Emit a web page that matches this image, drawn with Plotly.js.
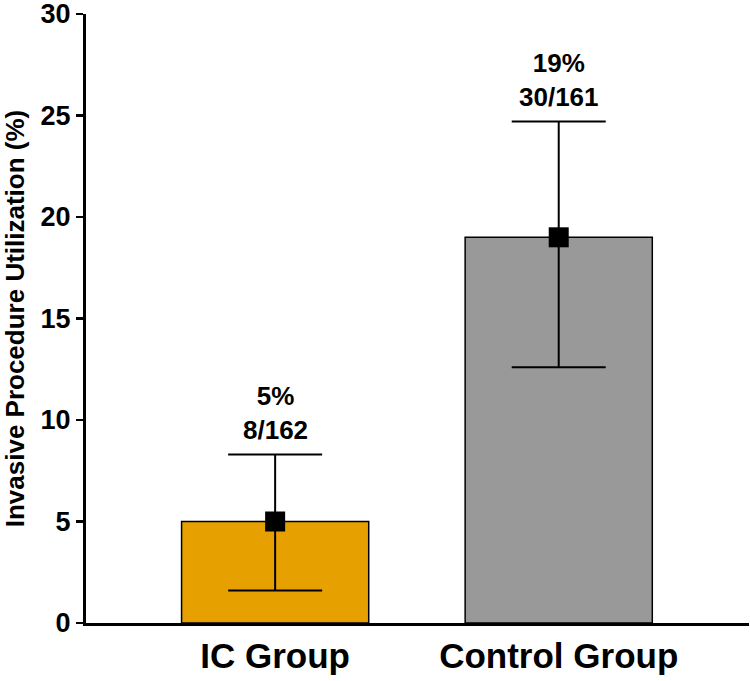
<!DOCTYPE html>
<html>
<head>
<meta charset="utf-8">
<script src="https://cdn.plot.ly/plotly-3.0.1.min.js"></script>
<style>
  html, body { margin: 0; padding: 0; background: #fff; }
  #chart { width: 750px; height: 681px; }
</style>
</head>
<body>
<div id="chart"></div>
<script>
const categories = ['IC Group', 'Control Group'];
const percentValues = [5, 19];
const ciUpper = [8.3, 24.7];
const ciLower = [1.6, 12.6];
const countLabels = ['8/162', '30/161'];
const percentLabels = ['5%', '19%'];
const barColors = ['#E6A000', '#999999'];

const errPlus = percentValues.map((v, i) => ciUpper[i] - v);
const errMinus = percentValues.map((v, i) => v - ciLower[i]);

const FONT = 'Liberation Sans, Arial, Helvetica, sans-serif';

const barTrace = {
  type: 'bar',
  x: categories,
  y: percentValues,
  width: 0.66,
  marker: { color: barColors, line: { color: '#000', width: 1.5 } },
  hoverinfo: 'skip',
  showlegend: false
};

const pointTrace = {
  type: 'scatter',
  mode: 'markers',
  x: categories,
  y: percentValues,
  marker: { symbol: 'square', size: 20, color: '#000' },
  error_y: {
    type: 'data',
    symmetric: false,
    array: errPlus,
    arrayminus: errMinus,
    color: '#000',
    thickness: 2,
    width: 47
  },
  showlegend: false
};

const annotations = categories.map((c, i) => ({
  x: c,
  y: ciUpper[i],
  xref: 'x',
  yref: 'y',
  text: percentLabels[i] + '<br>' + countLabels[i],
  showarrow: false,
  yanchor: 'bottom',
  yshift: 8,
  font: { family: FONT, size: 26, color: '#000', weight: 'bold' }
}));

const layout = {
  width: 750,
  height: 681,
  margin: { l: 86, r: 1, t: 14, b: 58 },
  paper_bgcolor: '#fff',
  plot_bgcolor: '#fff',
  bargap: 0,
  showlegend: false,
  annotations: annotations,
  xaxis: {
    type: 'category',
    range: [-0.667, 1.671],
    showline: true,
    linecolor: '#000',
    linewidth: 3,
    ticks: '',
    showgrid: false,
    zeroline: false,
    tickfont: { family: FONT, size: 35, color: '#000', weight: 'bold' },
    ticklabelstandoff: 0
  },
  yaxis: {
    range: [0, 30],
    tickvals: [0, 5, 10, 15, 20, 25, 30],
    ticktext: ['0', '5', '10', '15', '20', '25', '30'],
    showline: true,
    linecolor: '#000',
    linewidth: 3,
    ticks: 'outside',
    ticklen: 7,
    tickwidth: 2.5,
    tickcolor: '#000',
    showgrid: false,
    zeroline: false,
    ticklabeloverflow: 'allow',
    tickfont: { family: FONT, size: 27, color: '#000', weight: 'bold' },
    title: {
      text: 'Invasive Procedure Utilization (%)',
      font: { family: FONT, size: 26, color: '#000', weight: 'bold' },
      standoff: 10
    }
  }
};

Plotly.newPlot('chart', [barTrace, pointTrace], layout, { displayModeBar: false, staticPlot: true });
</script>
</body>
</html>
